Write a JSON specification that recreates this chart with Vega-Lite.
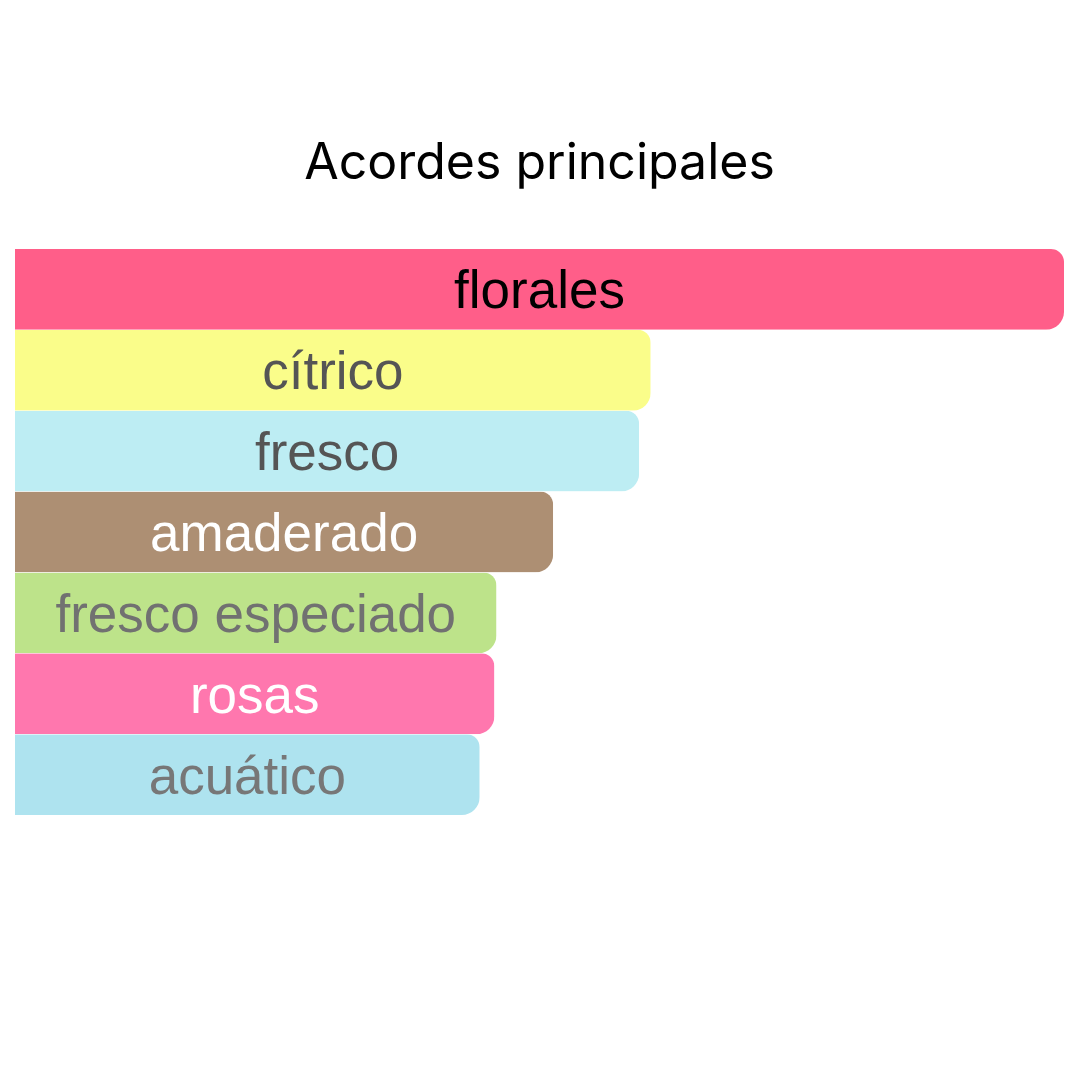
{
  "$schema": "https://vega.github.io/schema/vega-lite/v6.json",
  "autosize": "none",
  "padding": {"left": 15, "top": 249, "right": 16, "bottom": 265},
  "width": 1049,
  "height": 566,
  "background": "white",
  "config": {"view": {"stroke": null}},
  "title": {
    "text": "Acordes principales",
    "font": "Inter",
    "fontSize": 50,
    "fontWeight": "normal",
    "color": "#000000",
    "anchor": "middle",
    "offset": 60
  },
  "data": {
    "values": [
      {"acorde": "florales", "valor": 100},
      {"acorde": "cítrico", "valor": 60.6},
      {"acorde": "fresco", "valor": 59.5},
      {"acorde": "amaderado", "valor": 51.3},
      {"acorde": "fresco especiado", "valor": 45.9},
      {"acorde": "rosas", "valor": 45.7},
      {"acorde": "acuático", "valor": 44.3}
    ]
  },
  "encoding": {
    "y": {
      "field": "acorde",
      "type": "nominal",
      "sort": null,
      "axis": null,
      "scale": {"paddingInner": 0, "paddingOuter": 0}
    }
  },
  "layer": [
    {
      "mark": {"type": "bar", "cornerRadiusTopRight": 13, "cornerRadiusBottomRight": 18},
      "encoding": {
        "x": {
          "field": "valor",
          "type": "quantitative",
          "axis": null,
          "scale": {"domain": [0, 100], "nice": false}
        },
        "color": {
          "field": "acorde",
          "type": "nominal",
          "legend": null,
          "scale": {
            "domain": ["florales", "cítrico", "fresco", "amaderado", "fresco especiado", "rosas", "acuático"],
            "range": ["#FF5E89", "#FAFD8A", "#BDEDF3", "#AD8F73", "#BDE38A", "#FF77AE", "#AEE3EF"]
          }
        }
      }
    },
    {
      "transform": [{"calculate": "datum.valor / 2", "as": "centro"}],
      "mark": {
        "type": "text",
        "font": "Liberation Sans",
        "fontSize": 53,
        "align": "center",
        "baseline": "middle",
        "dy": 3
      },
      "encoding": {
        "x": {"field": "centro", "type": "quantitative"},
        "text": {"field": "acorde"},
        "color": {
          "field": "acorde",
          "type": "nominal",
          "legend": null,
          "scale": {
            "domain": ["florales", "cítrico", "fresco", "amaderado", "fresco especiado", "rosas", "acuático"],
            "range": ["#000000", "#555555", "#555555", "#FFFFFF", "#717171", "#FFFFFF", "#777777"]
          }
        }
      }
    }
  ],
  "resolve": {"scale": {"color": "independent"}}
}
